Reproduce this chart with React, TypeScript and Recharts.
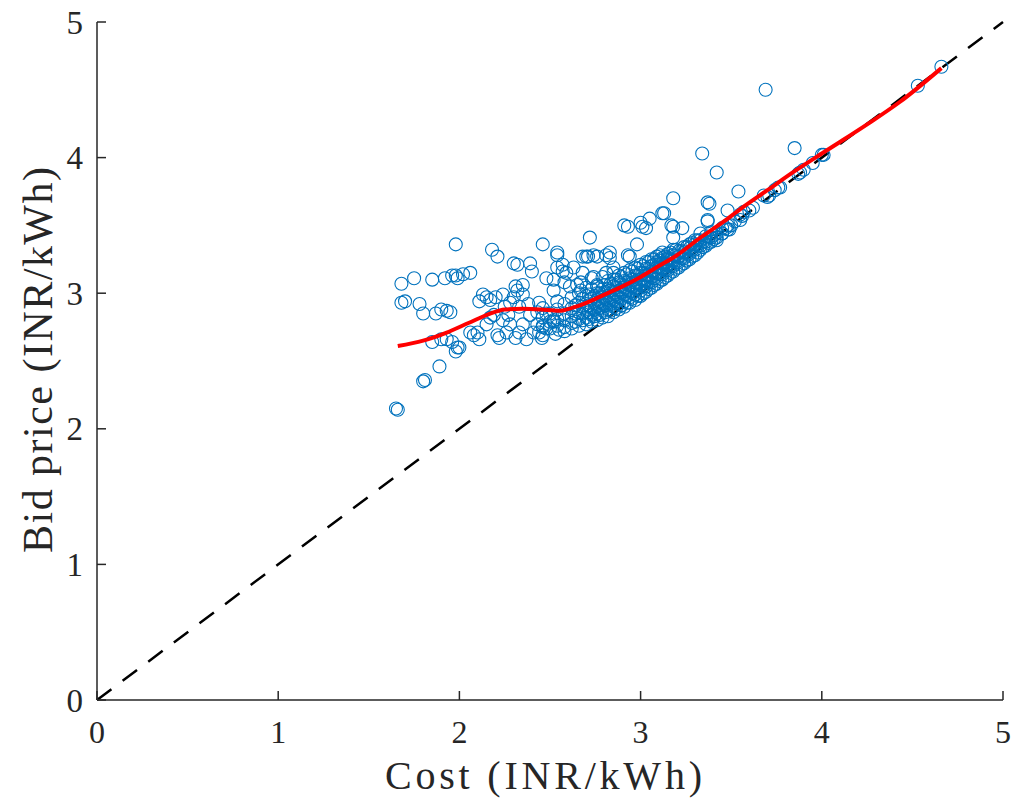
import { ScatterChart, Scatter, XAxis, YAxis, ReferenceLine } from "recharts";

// axis ticks
const xTicks = [0, 1, 2, 3, 4, 5];
const yTicks = [0, 1, 2, 3, 4, 5];

// [cost, bid] pairs
const lowPoints: [number, number][] = [
  [1.65, 2.15], [1.66, 2.14], [1.8, 2.35], [1.81, 2.36], [1.89, 2.46],
];

const spreadPoints: [number, number][] = [
  [1.68, 3.07], [1.75, 3.11], [1.85, 3.1], [1.92, 3.11], [1.96, 3.13], [1.98, 3.13], [1.99, 3.11],
  [2.02, 3.14], [2.06, 3.15], [1.98, 3.36], [2.18, 3.32], [2.21, 3.27], [2.46, 3.36], [2.3, 3.22],
  [2.32, 3.21], [2.39, 3.22], [2.4, 3.16],
  [1.68, 2.93], [1.7, 2.94], [1.78, 2.92], [1.8, 2.85], [1.87, 2.85], [1.9, 2.88], [1.93, 2.87], [1.95, 2.86],
  [2.13, 2.99], [2.15, 2.97], [2.11, 2.94], [2.17, 2.95], [2.2, 2.97], [2.24, 2.99], [2.31, 3.05],
  [2.32, 3.02], [2.35, 3.06], [2.35, 2.99], [2.3, 2.97], [2.25, 2.9], [2.28, 2.93], [2.33, 2.9],
  [2.38, 2.92], [2.27, 2.84], [2.24, 2.8],
  [1.85, 2.64], [1.9, 2.66], [1.93, 2.66], [1.96, 2.64], [1.99, 2.6], [2.0, 2.6], [1.98, 2.57],
  [2.06, 2.71], [2.08, 2.69], [2.1, 2.71], [2.11, 2.66], [2.15, 2.77], [2.17, 2.82], [2.19, 2.84],
  [2.21, 2.69], [2.22, 2.67], [2.26, 2.71], [2.28, 2.77], [2.31, 2.67], [2.33, 2.71], [2.35, 2.77],
  [2.37, 2.66], [2.41, 2.71], [2.43, 2.77], [2.46, 2.69], [2.48, 2.74], [2.52, 2.79], [2.43, 2.86],
  [2.46, 2.89], [2.39, 2.84], [2.44, 2.93], [2.48, 2.85], [2.46, 2.75], [2.44, 2.71], [2.52, 2.8],
  [2.455, 2.67], [2.55, 2.73], [2.53, 2.7], [2.58, 2.72],
];

const upperPoints: [number, number][] = [
  [2.54, 3.3], [2.72, 3.41], [2.91, 3.5], [2.98, 3.36], [2.74, 3.28], [2.68, 3.27], [2.7, 3.27],
  [2.83, 3.3], [2.93, 3.28], [2.57, 3.21], [2.59, 3.15], [2.48, 3.11], [2.52, 3.02], [2.65, 3.06],
  [2.67, 3.02], [2.73, 3.11], [2.76, 3.05], [2.81, 3.15], [2.85, 3.19], [2.81, 3.28], [2.83, 3.26],
  [2.76, 3.27], [2.71, 3.27], [2.94, 3.27], [2.54, 3.28], [2.54, 3.19], [2.57, 3.16], [2.63, 3.19],
  [2.68, 3.15], [2.52, 3.1], [2.58, 3.08], [2.61, 3.05], [2.67, 3.08], [2.74, 3.12], [2.79, 3.12],
  [2.85, 3.15], [3.11, 3.22], [3.15, 3.26],
  [3.69, 4.5], [3.85, 4.07], [3.34, 4.03], [3.42, 3.89], [3.54, 3.75], [3.18, 3.7], [3.37, 3.67],
  [3.38, 3.66], [3.48, 3.61], [3.37, 3.53], [3.13, 3.59], [2.93, 3.49], [3.0, 3.52], [3.03, 3.48],
  [3.05, 3.55], [3.17, 3.5], [3.23, 3.48], [3.01, 3.49], [3.18, 3.49], [3.18, 3.41], [3.45, 3.44],
  [3.42, 3.39], [3.33, 3.44], [3.55, 3.54], [3.37, 3.54], [3.12, 3.59],
];

const bandPoints: [number, number][] = [
  [2.46, 2.76], [2.46, 2.82],
  [2.5, 2.74], [2.5, 2.79], [2.5, 2.85],
  [2.54, 2.76], [2.54, 2.81], [2.54, 2.88], [2.54, 2.94],
  [2.58, 2.75], [2.58, 2.8], [2.58, 2.85], [2.58, 2.92],
  [2.62, 2.74], [2.62, 2.78], [2.62, 2.83], [2.62, 2.89], [2.62, 2.97],
  [2.66, 2.76], [2.66, 2.81], [2.66, 2.86], [2.66, 2.93], [2.66, 3.0],
  [2.7, 2.77], [2.7, 2.82], [2.7, 2.87], [2.7, 2.92], [2.7, 2.98], [2.7, 3.04],
  [2.73, 2.79], [2.73, 2.84], [2.73, 2.89], [2.73, 2.96], [2.73, 3.03],
  [2.76, 2.8], [2.76, 2.85], [2.76, 2.9], [2.76, 2.95], [2.76, 3.0], [2.76, 3.06],
  [2.79, 2.82], [2.79, 2.87], [2.79, 2.92], [2.79, 2.97], [2.79, 3.03],
  [2.82, 2.83], [2.82, 2.88], [2.82, 2.93], [2.82, 2.98], [2.82, 3.03], [2.82, 3.09],
  [2.85, 2.86], [2.85, 2.9], [2.85, 2.95], [2.85, 3.0], [2.85, 3.05], [2.85, 3.1],
  [2.88, 2.88], [2.88, 2.92], [2.88, 2.97], [2.88, 3.02], [2.88, 3.08], [2.88, 3.13],
  [2.91, 2.9], [2.91, 2.94], [2.91, 2.99], [2.91, 3.04], [2.91, 3.09], [2.91, 3.15],
  [2.94, 2.93], [2.94, 2.97], [2.94, 3.01], [2.94, 3.06], [2.94, 3.11], [2.94, 3.17],
  [2.97, 2.95], [2.97, 2.99], [2.97, 3.03], [2.97, 3.08], [2.97, 3.13], [2.97, 3.19],
  [3.0, 2.98], [3.0, 3.02], [3.0, 3.06], [3.0, 3.1], [3.0, 3.15], [3.0, 3.21],
  [3.03, 3.01], [3.03, 3.05], [3.03, 3.09], [3.03, 3.13], [3.03, 3.18], [3.03, 3.23],
  [3.06, 3.04], [3.06, 3.08], [3.06, 3.12], [3.06, 3.16], [3.06, 3.2], [3.06, 3.25],
  [3.09, 3.07], [3.09, 3.11], [3.09, 3.15], [3.09, 3.19], [3.09, 3.23], [3.09, 3.27],
  [3.12, 3.1], [3.12, 3.14], [3.12, 3.18], [3.12, 3.22], [3.12, 3.26], [3.12, 3.3],
  [3.15, 3.13], [3.15, 3.17], [3.15, 3.21], [3.15, 3.25], [3.15, 3.29],
  [3.18, 3.16], [3.18, 3.2], [3.18, 3.24], [3.18, 3.28], [3.18, 3.32],
  [3.21, 3.19], [3.21, 3.23], [3.21, 3.27], [3.21, 3.31],
  [3.24, 3.22], [3.24, 3.26], [3.24, 3.3], [3.24, 3.34],
  [3.27, 3.25], [3.27, 3.29], [3.27, 3.33], [3.27, 3.36],
  [3.3, 3.28], [3.3, 3.32], [3.3, 3.36], [3.3, 3.39],
  [3.33, 3.32], [3.33, 3.35], [3.33, 3.39],
  [3.36, 3.35], [3.36, 3.38], [3.36, 3.42],
  [3.39, 3.38], [3.39, 3.41], [3.39, 3.45],
  [3.42, 3.41], [3.42, 3.44],
  [3.45, 3.44], [3.45, 3.48],
  [3.48, 3.47], [3.48, 3.5],
];

// second, offset set of points that fills the densest stretch of the band
const bandFillPoints: [number, number][] = [
  [2.64, 2.79], [2.64, 2.85], [2.64, 2.91],
  [2.68, 2.8], [2.68, 2.85], [2.68, 2.9], [2.68, 2.96],
  [2.715, 2.81], [2.715, 2.86], [2.715, 2.91], [2.715, 2.99],
  [2.745, 2.83], [2.745, 2.88], [2.745, 2.93], [2.745, 2.98],
  [2.775, 2.84], [2.775, 2.89], [2.775, 2.94], [2.775, 3.0],
  [2.805, 2.86], [2.805, 2.91], [2.805, 2.96], [2.805, 3.01], [2.805, 3.06],
  [2.835, 2.87], [2.835, 2.92], [2.835, 2.97], [2.835, 3.02], [2.835, 3.07],
  [2.865, 2.89], [2.865, 2.94], [2.865, 2.99], [2.865, 3.04], [2.865, 3.1],
  [2.895, 2.91], [2.895, 2.96], [2.895, 3.01], [2.895, 3.06], [2.895, 3.12],
  [2.925, 2.93], [2.925, 2.98], [2.925, 3.03], [2.925, 3.08], [2.925, 3.14],
  [2.955, 2.96], [2.955, 3.0], [2.955, 3.05], [2.955, 3.1], [2.955, 3.16],
  [2.985, 2.98], [2.985, 3.03], [2.985, 3.08], [2.985, 3.13], [2.985, 3.18],
  [3.015, 3.0], [3.015, 3.05], [3.015, 3.1], [3.015, 3.15], [3.015, 3.2],
  [3.045, 3.03], [3.045, 3.08], [3.045, 3.13], [3.045, 3.18], [3.045, 3.23],
  [3.075, 3.06], [3.075, 3.11], [3.075, 3.16], [3.075, 3.21], [3.075, 3.25],
  [3.105, 3.09], [3.105, 3.14], [3.105, 3.19], [3.105, 3.24], [3.105, 3.28],
  [3.135, 3.12], [3.135, 3.17], [3.135, 3.22], [3.135, 3.27],
  [3.165, 3.15], [3.165, 3.2], [3.165, 3.25], [3.165, 3.3],
  [3.195, 3.18], [3.195, 3.23], [3.195, 3.28], [3.195, 3.32],
  [3.225, 3.21], [3.225, 3.26], [3.225, 3.31],
  [3.255, 3.24], [3.255, 3.29], [3.255, 3.34],
  [3.285, 3.27], [3.285, 3.32], [3.285, 3.37],
  [3.315, 3.3], [3.315, 3.35], [3.315, 3.39],
  [3.345, 3.34], [3.345, 3.38],
  [3.375, 3.37], [3.375, 3.41],
  [3.405, 3.4], [3.405, 3.43],
];

const diagonalPoints: [number, number][] = [
  [3.47, 3.48], [3.49, 3.47], [3.5, 3.5], [3.52, 3.53], [3.55, 3.58], [3.56, 3.57], [3.57, 3.6],
  [3.6, 3.61], [3.62, 3.63], [3.68, 3.72], [3.7, 3.71], [3.71, 3.72], [3.74, 3.76], [3.76, 3.78],
  [3.77, 3.78], [3.87, 3.88], [3.88, 3.89], [3.9, 3.91], [3.95, 3.96], [4.0, 4.02], [4.01, 4.02],
  [4.53, 4.53], [4.66, 4.67],
];

// smoothed fit (red curve)
const fitCost = [1.66, 1.8, 1.93, 2.05, 2.17, 2.25, 2.35, 2.45, 2.55, 2.63, 2.72, 2.81, 2.9, 3.0, 3.1, 3.2, 3.33, 3.45, 3.55, 3.7, 3.85, 4.0, 4.1, 4.25, 4.43, 4.66];
const fitBid = [2.61, 2.65, 2.71, 2.78, 2.85, 2.88, 2.885, 2.88, 2.87, 2.895, 2.94, 2.995, 3.05, 3.12, 3.2, 3.28, 3.41, 3.52, 3.62, 3.76, 3.9, 4.03, 4.115, 4.245, 4.41, 4.66];

const PLOT_LEFT = 97;
const PLOT_BOTTOM = 700;
const AXIS_COLOR = "#262626";
const SERIF = "'Liberation Serif', 'Times New Roman', serif";

const scatterData = [
  ...lowPoints,
  ...spreadPoints,
  ...upperPoints,
  ...bandPoints,
  ...bandFillPoints,
  ...diagonalPoints,
].map(([cost, bid]) => ({ cost, bid }));
const fitData = fitCost.map((cost, i) => ({ cost, bid: fitBid[i] }));

const Ring = (props: any) => (
  <circle cx={props.cx} cy={props.cy} r={6.5} fill="none" stroke="#0072BD" strokeWidth={1.1} />
);

const XTick = ({ x, payload }: any) => (
  <g>
    <line x1={x} x2={x} y1={PLOT_BOTTOM} y2={PLOT_BOTTOM - 9} stroke={AXIS_COLOR} strokeWidth={1.5} />
    <text x={x} y={743} textAnchor="middle" fontFamily={SERIF} fontSize={32} fill={AXIS_COLOR}>
      {payload.value}
    </text>
  </g>
);

const YTick = ({ y, payload }: any) => (
  <g>
    <line x1={PLOT_LEFT} x2={PLOT_LEFT + 9} y1={y} y2={y} stroke={AXIS_COLOR} strokeWidth={1.5} />
    <text x={83} y={y + 11.5} textAnchor="end" fontFamily={SERIF} fontSize={33} fill={AXIS_COLOR}>
      {payload.value}
    </text>
  </g>
);

export default function App() {
  return (
    <div style={{ position: "absolute", left: 0, top: 0, width: 1014, height: 805, background: "#fff" }}>
      <ScatterChart width={1014} height={805} margin={{ top: 22, right: 11, bottom: 45, left: 37 }}>
        <XAxis
          type="number"
          dataKey="cost"
          domain={[0, 5]}
          ticks={xTicks}
          interval={0}
          height={60}
          tickLine={false}
          axisLine={{ stroke: AXIS_COLOR, strokeWidth: 1.5 }}
          tick={<XTick />}
          allowDataOverflow
        />
        <YAxis
          type="number"
          dataKey="bid"
          domain={[0, 5]}
          ticks={yTicks}
          interval={0}
          width={60}
          tickLine={false}
          axisLine={{ stroke: AXIS_COLOR, strokeWidth: 1.5 }}
          tick={<YTick />}
          allowDataOverflow
        />
        <Scatter data={scatterData} shape={Ring} isAnimationActive={false} />
        <Scatter
          data={fitData}
          shape={() => <g />}
          line={{ stroke: "#FF0000", strokeWidth: 4 }}
          lineJointType="monotoneX"
          isAnimationActive={false}
        />
        <ReferenceLine
          segment={[{ x: 0, y: 0 }, { x: 5, y: 5 }]}
          stroke="#000"
          strokeWidth={2.5}
          strokeDasharray="18 14"
          ifOverflow="visible"
        />
      </ScatterChart>
      <svg
        width={1014}
        height={805}
        style={{ position: "absolute", left: 0, top: 0, pointerEvents: "none" }}
      >
        <text x={385} y={789} fontFamily={SERIF} fontSize={40} fill={AXIS_COLOR} textLength={317} lengthAdjust="spacing">
          Cost (INR/kWh)
        </text>
        <text
          transform="translate(52,360) rotate(-90)"
          textAnchor="middle"
          fontFamily={SERIF}
          fontSize={42}
          fill={AXIS_COLOR}
          textLength={386}
          lengthAdjust="spacing"
        >
          Bid price (INR/kWh)
        </text>
      </svg>
    </div>
  );
}
